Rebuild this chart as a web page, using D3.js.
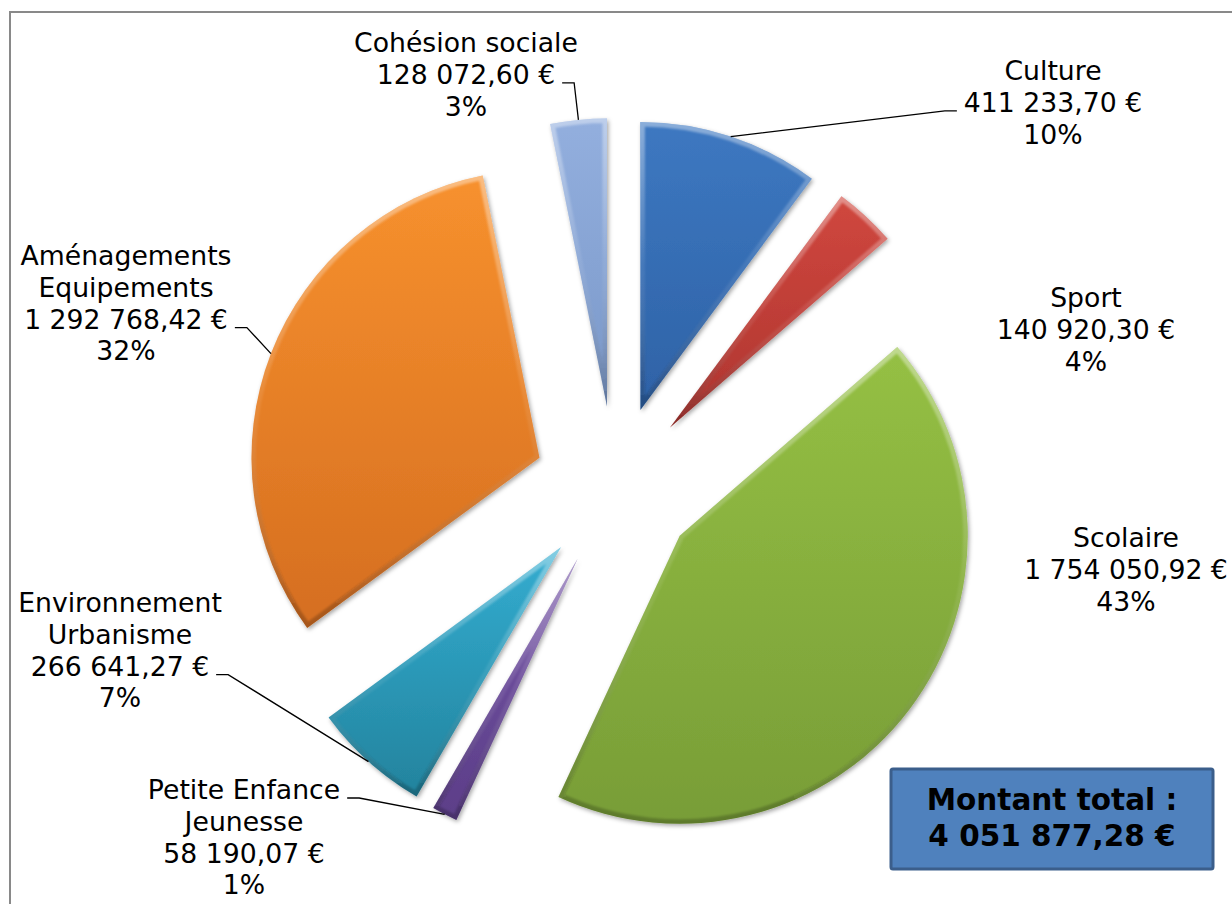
<!DOCTYPE html>
<html>
<head>
<meta charset="utf-8">
<script src="https://cdn.jsdelivr.net/npm/d3@7"></script>
<style>
  body { margin: 0; background: #fff; }
  text { font-family: "DejaVu Sans", Verdana, sans-serif; }
</style>
</head>
<body>
<div id="chart"></div>
<script>
// Data
var categories = ["Culture", "Sport", "Scolaire", "Petite Enfance\nJeunesse",
    "Environnement\nUrbanisme", "Aménagements\nEquipements", "Cohésion sociale"];
var amounts = [411233.70, 140920.30, 1754050.92, 58190.07, 266641.27, 1292768.42, 128072.60];
var percentLabels = ["10%", "4%", "43%", "1%", "7%", "32%", "3%"];

// slice colours (top / bottom of gradient)
var colorsTop = ["#3D78C1", "#D0473E", "#95C044", "#7454A6", "#33ADD1", "#F7912E", "#93AFDE"];
var colorsBottom = ["#2E62A6", "#AE3530", "#789D37", "#5C3E88", "#23839D", "#D56E20", "#7A98C9"];

// label layout: centre x, first baseline, where the leader line attaches
var labelLayout = [
    {x: 1053, y: 80, side: "left", line: 1},
    {x: 1086, y: 307, side: null},
    {x: 1126, y: 547, side: null},
    {x: 244, y: 799, side: "right", line: 0},
    {x: 120, y: 612, side: "right", line: 2},
    {x: 126, y: 265, side: "right", line: 2},
    {x: 466, y: 52, side: "right", line: 1}
];

// Chart params
var svgWidth = 1232;
var svgHeight = 904;
var cx = 615, cy = 487;
var radius = 288;
var explode = 81;
var fontSize = 26.7;
var lineHeight = 31.8;

var svg = d3.select("#chart")
    .append("svg")
    .attr("width", svgWidth)
    .attr("height", svgHeight);

var defs = svg.append("defs");

// drop shadow under the slices
var shadow = defs.append("filter").attr("id", "shadow")
    .attr("x", "-20%").attr("y", "-20%").attr("width", "140%").attr("height", "140%");
shadow.append("feDropShadow")
    .attr("dx", 1.5).attr("dy", 2).attr("stdDeviation", 2)
    .attr("flood-color", "#000").attr("flood-opacity", 0.35);

var soft = defs.append("filter").attr("id", "soft");
soft.append("feGaussianBlur").attr("stdDeviation", 1.2);

// bevel rim: light at the top, dark at the bottom
var rim = defs.append("linearGradient").attr("id", "rim")
    .attr("x1", 0).attr("y1", 0).attr("x2", 0).attr("y2", 1);
rim.append("stop").attr("offset", "0%").attr("stop-color", "#fff").attr("stop-opacity", 0.4);
rim.append("stop").attr("offset", "50%").attr("stop-color", "#fff").attr("stop-opacity", 0.08);
rim.append("stop").attr("offset", "100%").attr("stop-color", "#000").attr("stop-opacity", 0.22);

// chart frame
svg.append("rect")
    .attr("x", 10).attr("y", 12)
    .attr("width", svgWidth + 20).attr("height", svgHeight + 20)
    .attr("fill", "none")
    .attr("stroke", "#898989")
    .attr("stroke-width", 2);

var pie = d3.pie().sort(null).value(d => d);
var arcs = pie(amounts);
var arc = d3.arc().innerRadius(0).outerRadius(radius);

function dir(a) {
    return [Math.sin(a), -Math.cos(a)];
}

var pieGroup = svg.append("g")
    .attr("transform", `translate(${cx}, ${cy})`);

arcs.forEach(function(d, i) {
    var mid = (d.startAngle + d.endAngle) / 2;
    var off = dir(mid);

    var grad = defs.append("linearGradient").attr("id", "fill" + i)
        .attr("x1", 0).attr("y1", 0).attr("x2", 0).attr("y2", 1);
    grad.append("stop").attr("offset", "0%").attr("stop-color", colorsTop[i]);
    grad.append("stop").attr("offset", "100%").attr("stop-color", colorsBottom[i]);

    defs.append("clipPath").attr("id", "clip" + i)
        .append("path").attr("d", arc(d));

    var g = pieGroup.append("g")
        .attr("transform", `translate(${off[0] * explode}, ${off[1] * explode})`);

    g.append("path")
        .attr("d", arc(d))
        .attr("fill", `url(#fill${i})`)
        .attr("filter", "url(#shadow)");

    g.append("path")
        .attr("d", arc(d))
        .attr("fill", "none")
        .attr("stroke", "url(#rim)")
        .attr("stroke-width", 9)
        .attr("stroke-linejoin", "miter")
        .attr("clip-path", `url(#clip${i})`)
        .attr("filter", "url(#soft)");
});

// french number format
var fr = d3.formatLocale({decimal: ",", thousands: " ", grouping: [3], currency: ["", " €"]});
var money = fr.format(",.2f");

// data labels + leader lines
var labelsGroup = svg.append("g");
var leaderGroup = svg.append("g");

arcs.forEach(function(d, i) {
    var lay = labelLayout[i];
    var lines = categories[i].split("\n").concat([money(amounts[i]) + " €", percentLabels[i]]);

    var text = labelsGroup.append("text")
        .attr("text-anchor", "middle")
        .attr("font-size", fontSize)
        .attr("fill", "#000");

    var spans = lines.map(function(l, k) {
        return text.append("tspan")
            .attr("x", lay.x)
            .attr("y", lay.y + k * lineHeight)
            .text(l);
    });

    if (lay.side) {
        var mid = (d.startAngle + d.endAngle) / 2;
        var p = dir(mid);
        var ax = cx + p[0] * (explode + radius);
        var ay = cy + p[1] * (explode + radius);

        var w = spans[lay.line].node().getComputedTextLength();
        var ly = lay.y + lay.line * lineHeight - 1;
        var gap = 7, stub = 12;
        var x0, x1;
        if (lay.side === "right") {
            x0 = lay.x + w / 2 + gap;
            x1 = x0 + stub;
        } else {
            x0 = lay.x - w / 2 - gap;
            x1 = x0 - stub;
        }
        leaderGroup.append("polyline")
            .attr("points", `${x0},${ly} ${x1},${ly} ${ax},${ay}`)
            .attr("fill", "none")
            .attr("stroke", "#000")
            .attr("stroke-width", 1.3);
    }
});

// total box
var total = d3.sum(amounts);
var box = svg.append("g");
box.append("rect")
    .attr("x", 891).attr("y", 769)
    .attr("width", 322).attr("height", 100)
    .attr("rx", 2)
    .attr("fill", "#4F81BD")
    .attr("stroke", "#3B5E8B")
    .attr("stroke-width", 3);
var boxText = box.append("text")
    .attr("text-anchor", "middle")
    .attr("font-size", 29.5)
    .attr("font-weight", "bold")
    .attr("fill", "#000");
boxText.append("tspan").attr("x", 1052).attr("y", 810).text("Montant total :");
boxText.append("tspan").attr("x", 1052).attr("y", 846).text(money(total) + " €");
</script>
</body>
</html>
